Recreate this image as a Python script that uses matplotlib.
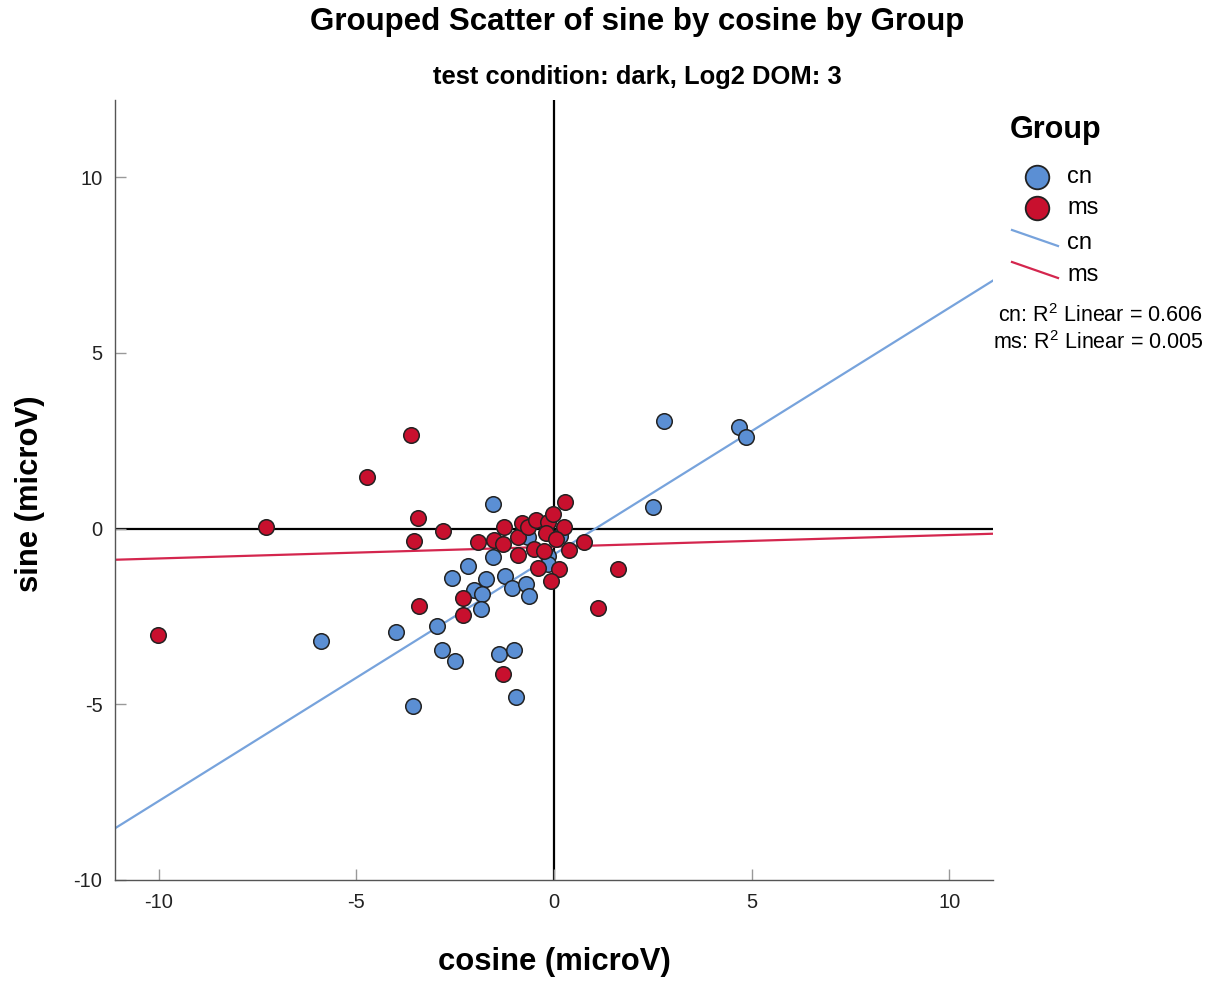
import numpy as np
import matplotlib
matplotlib.use("Agg")
import matplotlib.pyplot as plt
from matplotlib.lines import Line2D

plt.rcParams['font.family'] = ['Liberation Sans', 'DejaVu Sans']
plt.rcParams['mathtext.fontset'] = 'custom'
plt.rcParams['mathtext.rm'] = 'Liberation Sans'
plt.rcParams['axes.unicode_minus'] = False

# cosine / sine amplitudes (microV) per group
cn_cos = [2.78, 4.68, 4.86, 2.51, -1.54, -5.90, -4.00, -3.57, -2.96, -2.84,
          -2.51, -1.39, -1.01, -0.96, -1.53, -2.18, -2.57, -1.72, -1.24, -1.05,
          -0.71, -0.62, -2.03, -1.82, -1.85, -0.16, -0.67, 0.15, -0.16]
cn_sin = [3.07, 2.90, 2.62, 0.63, 0.71, -3.19, -2.93, -5.04, -2.76, -3.44,
          -3.78, -3.56, -3.44, -4.78, -0.82, -1.05, -1.41, -1.43, -1.34, -1.70,
          -1.57, -1.93, -1.76, -1.85, -2.28, -0.77, -0.25, -0.20, -1.00]

ms_cos = [-10.02, -7.29, -4.72, -3.62, -3.44, -3.55, -3.41, -2.80, -2.31, -2.31,
          -1.29, 1.63, 1.11, 0.28, -1.93, -1.51, -1.27, -1.30, -0.92, -0.82,
          -0.67, -0.46, -0.16, -0.03, 0.25, -0.20, 0.05, -0.50, -0.90, -0.25,
          0.39, 0.75, -0.41, 0.13, -0.08]
ms_sin = [-3.02, 0.04, 1.47, 2.67, 0.29, -0.34, -2.20, -0.06, -1.97, -2.45,
          -4.13, -1.15, -2.26, 0.75, -0.39, -0.32, 0.04, -0.44, -0.23, 0.15,
          0.04, 0.25, 0.18, 0.42, 0.04, -0.13, -0.29, -0.58, -0.74, -0.63,
          -0.61, -0.37, -1.12, -1.15, -1.50]

groups = ['cn', 'ms']
r2_labels = ['0.606', '0.005']
fill_colors = ['#5B8FD4', '#C8102E']
fit_colors = ['#77A3DC', '#D4264E']

title = 'Grouped Scatter of sine by cosine by Group'
subtitle = 'test condition: dark, Log2 DOM: 3'
xlabel = 'cosine (microV)'
ylabel = 'sine (microV)'
ticks = [-10, -5, 0, 5, 10]

W, H = 1210, 981
fig = plt.figure(figsize=(W / 100, H / 100), dpi=100)
ax = fig.add_axes([115 / W, 1 - 880 / H, (993 - 115) / W, (880 - 100) / H])

xlim = (-11.1, 11.1)
ylim = (-10.0, 12.2)
ax.set_xlim(*xlim)
ax.set_ylim(*ylim)

# reference lines through the origin
ax.axhline(0, color='black', lw=1.6, zorder=1)
ax.axvline(0, color='black', lw=1.6, zorder=1)

data = [(np.array(cn_cos), np.array(cn_sin)), (np.array(ms_cos), np.array(ms_sin))]

# linear fits per group
xs = np.array(xlim)
for (x, y), c in zip(data, fit_colors):
    slope, icpt = np.polyfit(x, y, 1)
    ax.plot(xs, slope * xs + icpt, color=c, lw=1.6, zorder=2, clip_on=True)

for (x, y), c in zip(data, fill_colors):
    ax.scatter(x, y, s=125, color=c, edgecolors='#222222', linewidths=1.1, zorder=3)

for s in ['top', 'right']:
    ax.spines[s].set_visible(False)
for s in ['left', 'bottom']:
    ax.spines[s].set_color('#555555')
    ax.spines[s].set_linewidth(1.0)

ax.set_xticks(ticks)
ax.set_yticks(ticks)
ax.tick_params(direction='in', length=8, width=1, color='#999999',
               labelsize=14.5, labelcolor='#222222', pad=9)

# titles and axis labels
fig.text(637 / W, 1 - 22 / H, title, ha='center', va='center',
         fontsize=22.5, fontweight='bold')
fig.text(637 / W, 1 - 77 / H, subtitle, ha='center', va='center',
         fontsize=18.4, fontweight='bold')
fig.text(554 / W, 1 - 962 / H, xlabel, ha='center', va='center',
         fontsize=22.3, fontweight='bold')
fig.text(30 / W, 1 - 494 / H, ylabel, ha='center', va='center',
         fontsize=22.3, fontweight='bold', rotation=90)

# legend drawn on an overlay in pixel coordinates
ov = fig.add_axes([0, 0, 1, 1], facecolor='none')
ov.set_xlim(0, W)
ov.set_ylim(H, 0)
ov.axis('off')

ov.text(1010, 130, 'Group', ha='left', va='center', fontsize=22, fontweight='bold')
for i, (g, c) in enumerate(zip(groups, fill_colors)):
    yy = 177 + 31 * i
    ov.plot([1037], [yy], 'o', ms=17, mfc=c, mec='#222222', mew=1.3)
    ov.text(1067, yy, g, ha='left', va='center', fontsize=17)
for i, (g, c) in enumerate(zip(groups, fit_colors)):
    yy = 243 + 32 * i
    ov.add_line(Line2D([1012, 1058], [yy - 13, yy + 3], color=c, lw=1.6))
    ov.text(1067, yy, g, ha='left', va='center', fontsize=17)
for i, (g, r2) in enumerate(zip(groups, r2_labels)):
    yy = 316 + 27 * i
    ov.text(1203, yy, g + r': R$^2$ Linear = ' + r2, ha='right', va='center',
            fontsize=15.5)

fig.savefig('out.png', dpi=100)
